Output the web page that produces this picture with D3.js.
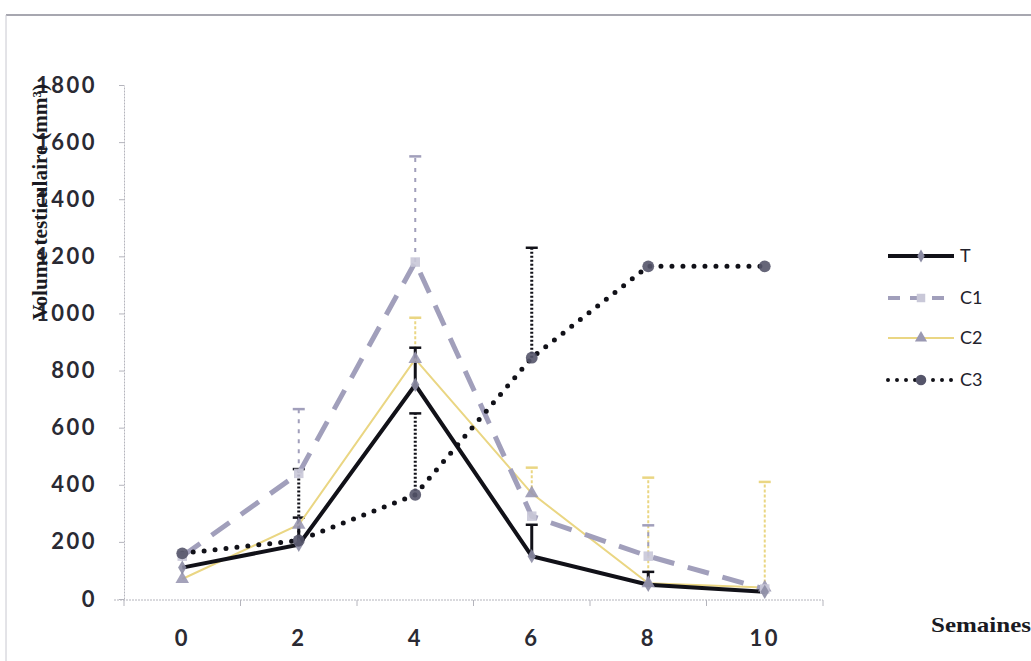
<!DOCTYPE html>
<html>
<head>
<meta charset="utf-8">
<script src="https://cdn.jsdelivr.net/npm/d3@7"></script>
<style>
  html, body { margin: 0; padding: 0; background: #fff; }
  svg { display: block; }
</style>
</head>
<body>
<svg id="chart"></svg>
<script>
// weeks on the x axis
const weeks = ['0', '2', '4', '6', '8', '10'];
const yTicks = [0, 200, 400, 600, 800, 1000, 1200, 1400, 1600, 1800];

// mean testicular volume per group
const seriesT  = [110, 190, 750, 150, 50, 25];
const seriesC1 = [150, 440, 1180, 290, 150, 35];
const seriesC2 = [70, 260, 840, 370, 55, 40];
const seriesC3 = [160, 205, 365, 845, 1165, 1165];

// upper error (standard deviation) per group
const errT  = [0, 95, 130, 110, 45, 0];
const errC1 = [0, 225, 370, 0, 108, 0];
const errC2 = [0, 0, 145, 90, 370, 370];
const errC3 = [0, 250, 285, 385, 0, 0];

const seriesNames = ['T', 'C1', 'C2', 'C3'];

const W = 1031, H = 661;
const svg = d3.select('#chart').attr('width', W).attr('height', H);

// frame of the scanned figure
svg.append('line').attr('x1', 6).attr('x2', W).attr('y1', 15).attr('y2', 15)
    .attr('stroke', '#8a8a96').attr('stroke-width', 1.5);
svg.append('line').attr('x1', 6).attr('x2', 6).attr('y1', 15).attr('y2', H)
    .attr('stroke', '#c8c8d0').attr('stroke-width', 1);

const x = d3.scaleBand().domain(weeks).range([124, 823]);
const y = d3.scaleLinear().domain([0, 1800]).range([599, 85]);
const cx = d => x(d) + x.bandwidth() / 2;

const tickFont = 'Lato, "Open Sans", sans-serif';

// y axis
const yAxis = svg.append('g')
    .attr('transform', 'translate(124,0)')
    .call(d3.axisLeft(y).tickValues(yTicks).tickFormat(d3.format('d'))
        .tickSize(5).tickSizeOuter(0).tickPadding(22));
yAxis.select('.domain').attr('stroke', '#b4b4bc').attr('stroke-dasharray', '2,1');
yAxis.selectAll('.tick line').attr('stroke', '#b4b4bc');
yAxis.selectAll('.tick text')
    .attr('fill', '#2a2a33').style('font-family', tickFont)
    .style('font-size', '22px').style('font-weight', 'bold').style('letter-spacing', '2.5px');

// x axis: labels under band centres, ticks at band boundaries
const xAxis = svg.append('g')
    .attr('transform', 'translate(0,600)')
    .call(d3.axisBottom(x).tickSize(0).tickPadding(30));
xAxis.select('.domain').remove();
xAxis.selectAll('.tick text')
    .attr('fill', '#2a2a33').style('font-family', tickFont)
    .style('font-size', '22px').style('font-weight', 'bold').style('letter-spacing', '2.5px');

svg.append('line').attr('x1', 114).attr('x2', 823).attr('y1', 600).attr('y2', 600)
    .attr('stroke', '#b4b4bc').attr('stroke-dasharray', '2,1');
svg.selectAll('.bticks')
    .data(weeks.concat(['end']))
    .enter()
    .append('line')
    .attr('x1', (d, i) => 124 + i * x.bandwidth())
    .attr('x2', (d, i) => 124 + i * x.bandwidth())
    .attr('y1', 600).attr('y2', 606)
    .attr('stroke', '#b4b4bc');

// axis titles
svg.append('text')
    .attr('transform', 'translate(47,202) rotate(-90)')
    .attr('text-anchor', 'middle')
    .attr('textLength', 236).attr('lengthAdjust', 'spacingAndGlyphs')
    .style('font-family', '"Liberation Serif", serif')
    .style('font-size', '21px').style('font-weight', 'bold')
    .attr('fill', '#1a1a22')
    .text('Volume testiculaire (mm³)');

svg.append('text')
    .attr('x', 931).attr('y', 632)
    .attr('textLength', 100).attr('lengthAdjust', 'spacingAndGlyphs')
    .style('font-family', '"Liberation Serif", serif')
    .style('font-size', '21px').style('font-weight', 'bold')
    .attr('fill', '#1a1a22')
    .text('Semaines');

// series styles
const styles = {
    T:  { color: '#111118', width: 4, dash: null, marker: 'diamond', mfill: '#8c8ca4', msize: 60,
          ebw: 3, ebdash: null },
    C1: { color: '#a19fbb', width: 5, dash: '22,14', marker: 'square', mfill: '#c9c8d8', msize: 90,
          ebw: 2, ebdash: '4,6' },
    C2: { color: '#ead683', width: 2, dash: null, marker: 'triangle', mfill: '#9a98b2', msize: 80,
          ebw: 2, ebdash: '3,2' },
    C3: { color: '#111118', width: 5, dash: '0,11', marker: 'circle', mfill: '#55556a', msize: 110,
          ebw: 3, ebdash: '2,2' }
};
const values = { T: seriesT, C1: seriesC1, C2: seriesC2, C3: seriesC3 };
const errors = { T: errT, C1: errC1, C2: errC2, C3: errC3 };
const symbolType = {
    diamond: d3.symbolDiamond, square: d3.symbolSquare,
    triangle: d3.symbolTriangle, circle: d3.symbolCircle
};

const line = d3.line().x(d => cx(d.w)).y(d => y(d.v));
const plot = svg.append('g');

// error bars first, then lines, then markers
['C2', 'C1', 'T', 'C3'].forEach(name => {
    const s = styles[name];
    const pts = weeks.map((w, i) => ({ w: w, v: values[name][i], e: errors[name][i] }))
        .filter(d => d.e > 0);
    const eb = plot.append('g');
    eb.selectAll('line.bar')
        .data(pts)
        .enter()
        .append('line')
        .attr('x1', d => cx(d.w)).attr('x2', d => cx(d.w))
        .attr('y1', d => y(d.v)).attr('y2', d => y(d.v + d.e))
        .attr('stroke', s.color).attr('stroke-width', s.ebw)
        .attr('stroke-dasharray', s.ebdash);
    eb.selectAll('line.cap')
        .data(pts)
        .enter()
        .append('line')
        .attr('x1', d => cx(d.w) - 6).attr('x2', d => cx(d.w) + 6)
        .attr('y1', d => y(d.v + d.e)).attr('y2', d => y(d.v + d.e))
        .attr('stroke', s.color).attr('stroke-width', 2.5);
});

['C2', 'C1', 'T', 'C3'].forEach(name => {
    const s = styles[name];
    const pts = weeks.map((w, i) => ({ w: w, v: values[name][i] }));
    plot.append('path')
        .datum(pts)
        .attr('d', line)
        .attr('fill', 'none')
        .attr('stroke', s.color)
        .attr('stroke-width', s.width)
        .attr('stroke-linecap', name === 'C3' ? 'round' : 'butt')
        .attr('stroke-dasharray', s.dash);
});

['C2', 'C1', 'T', 'C3'].forEach(name => {
    const s = styles[name];
    const pts = weeks.map((w, i) => ({ w: w, v: values[name][i] }));
    plot.selectAll('.m' + name)
        .data(pts)
        .enter()
        .append('path')
        .attr('transform', d => `translate(${cx(d.w)},${y(d.v)})`)
        .attr('d', d3.symbol().type(symbolType[s.marker]).size(s.msize))
        .attr('fill', s.mfill)
        .attr('opacity', 0.9);
});

// legend
const legend = svg.append('g').attr('transform', 'translate(888,0)');
const legendY = [256, 298, 338, 380];
seriesNames.forEach((name, i) => {
    const s = styles[name];
    const g = legend.append('g').attr('transform', `translate(0,${legendY[i]})`);
    g.append('line')
        .attr('x1', 0).attr('x2', 66).attr('y1', 0).attr('y2', 0)
        .attr('stroke', s.color).attr('stroke-width', name === 'C2' ? 2 : Math.min(s.width, 4))
        .attr('stroke-linecap', name === 'C3' ? 'round' : 'butt')
        .attr('stroke-dasharray', name === 'C1' ? '12,10' : (name === 'C3' ? '0,9' : null));
    g.append('path')
        .attr('transform', 'translate(33,0)')
        .attr('d', d3.symbol().type(symbolType[s.marker]).size(s.msize * 0.8))
        .attr('fill', s.mfill);
    g.append('text')
        .attr('x', 72).attr('y', 6)
        .style('font-family', tickFont).style('font-size', '18px')
        .attr('fill', '#22222c')
        .text(name);
});
</script>
</body>
</html>
